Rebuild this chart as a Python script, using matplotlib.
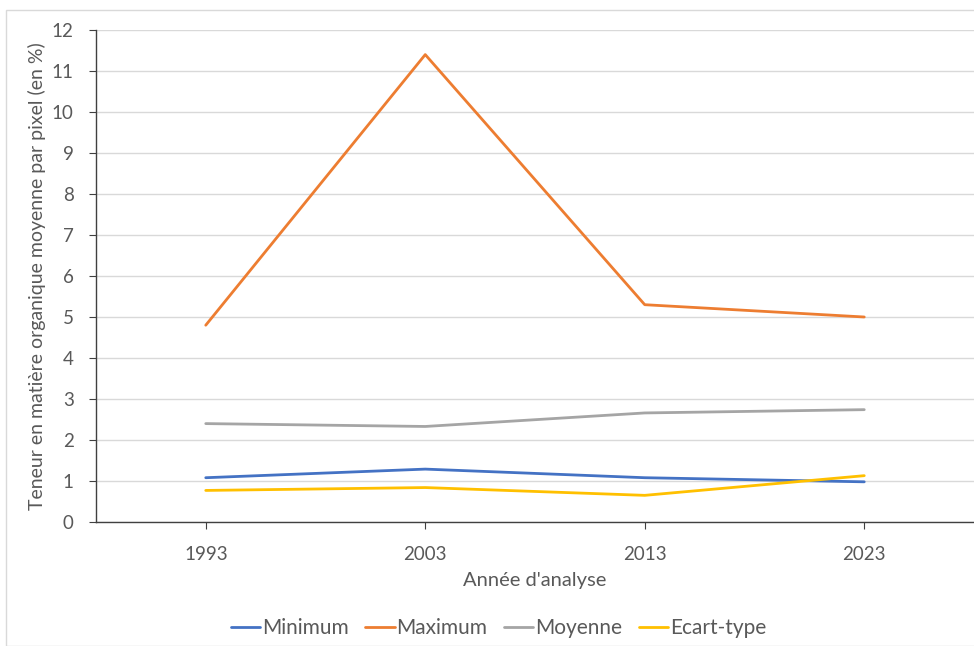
import matplotlib.pyplot as plt
from matplotlib.patches import Rectangle

# Teneur en matiere organique par annee
years = ["1993", "2003", "2013", "2023"]
minimum = [1.08, 1.29, 1.08, 0.98]
maximum = [4.8, 11.4, 5.3, 5.0]
moyenne = [2.4, 2.33, 2.66, 2.74]
ecart_type = [0.77, 0.84, 0.65, 1.13]

series = [
    ("Minimum", minimum, "#4472C4"),
    ("Maximum", maximum, "#ED7D31"),
    ("Moyenne", moyenne, "#A5A5A5"),
    ("Ecart-type", ecart_type, "#FFC000"),
]

plt.rcParams['font.family'] = ['Lato', 'DejaVu Sans']
text_color = "#595959"

fig = plt.figure(figsize=(9.74, 6.46), dpi=100)
ax = fig.add_axes([96 / 974, 124 / 646, 878 / 974, 492 / 646])

x = [i + 0.5 for i in range(len(years))]
for name, vals, color in series:
    ax.plot(x, vals, color=color, lw=2.0, label=name, solid_capstyle="round")

ax.set_xlim(0, len(years))
ax.set_ylim(0, 12)
ax.set_yticks(range(0, 13))
ax.set_xticks(x)
ax.set_xticklabels(years)
ax.grid(axis="y", color="#D9D9D9", lw=1)
ax.set_axisbelow(True)

for side in ["top", "right"]:
    ax.spines[side].set_visible(False)
for side in ["left", "bottom"]:
    ax.spines[side].set_color("#404040")
    ax.spines[side].set_linewidth(1)

ax.tick_params(axis="y", length=5, color="#404040", labelcolor=text_color, labelsize=13.5, pad=11)
ax.tick_params(axis="x", length=5, color="#404040", labelcolor=text_color, labelsize=13.5, pad=12)

ax.set_ylabel("Teneur en matière organique moyenne par pixel (en %)", color=text_color, fontsize=14, labelpad=4)
ax.set_xlabel("Année d'analyse", color=text_color, fontsize=14.5, labelpad=7)

fig.legend(loc="center", bbox_to_anchor=(0.512, 0.028), ncol=4, frameon=False,
           fontsize=15, labelcolor=text_color, handlelength=1.4, handletextpad=0.1,
           columnspacing=0.8)

# cadre du graphique
fig.patches.append(Rectangle((6 / 974, 0), 1, 1 - 10 / 646, transform=fig.transFigure,
                             fill=False, edgecolor="#D9D9D9", lw=1))

fig.savefig("out.png", dpi=100)
